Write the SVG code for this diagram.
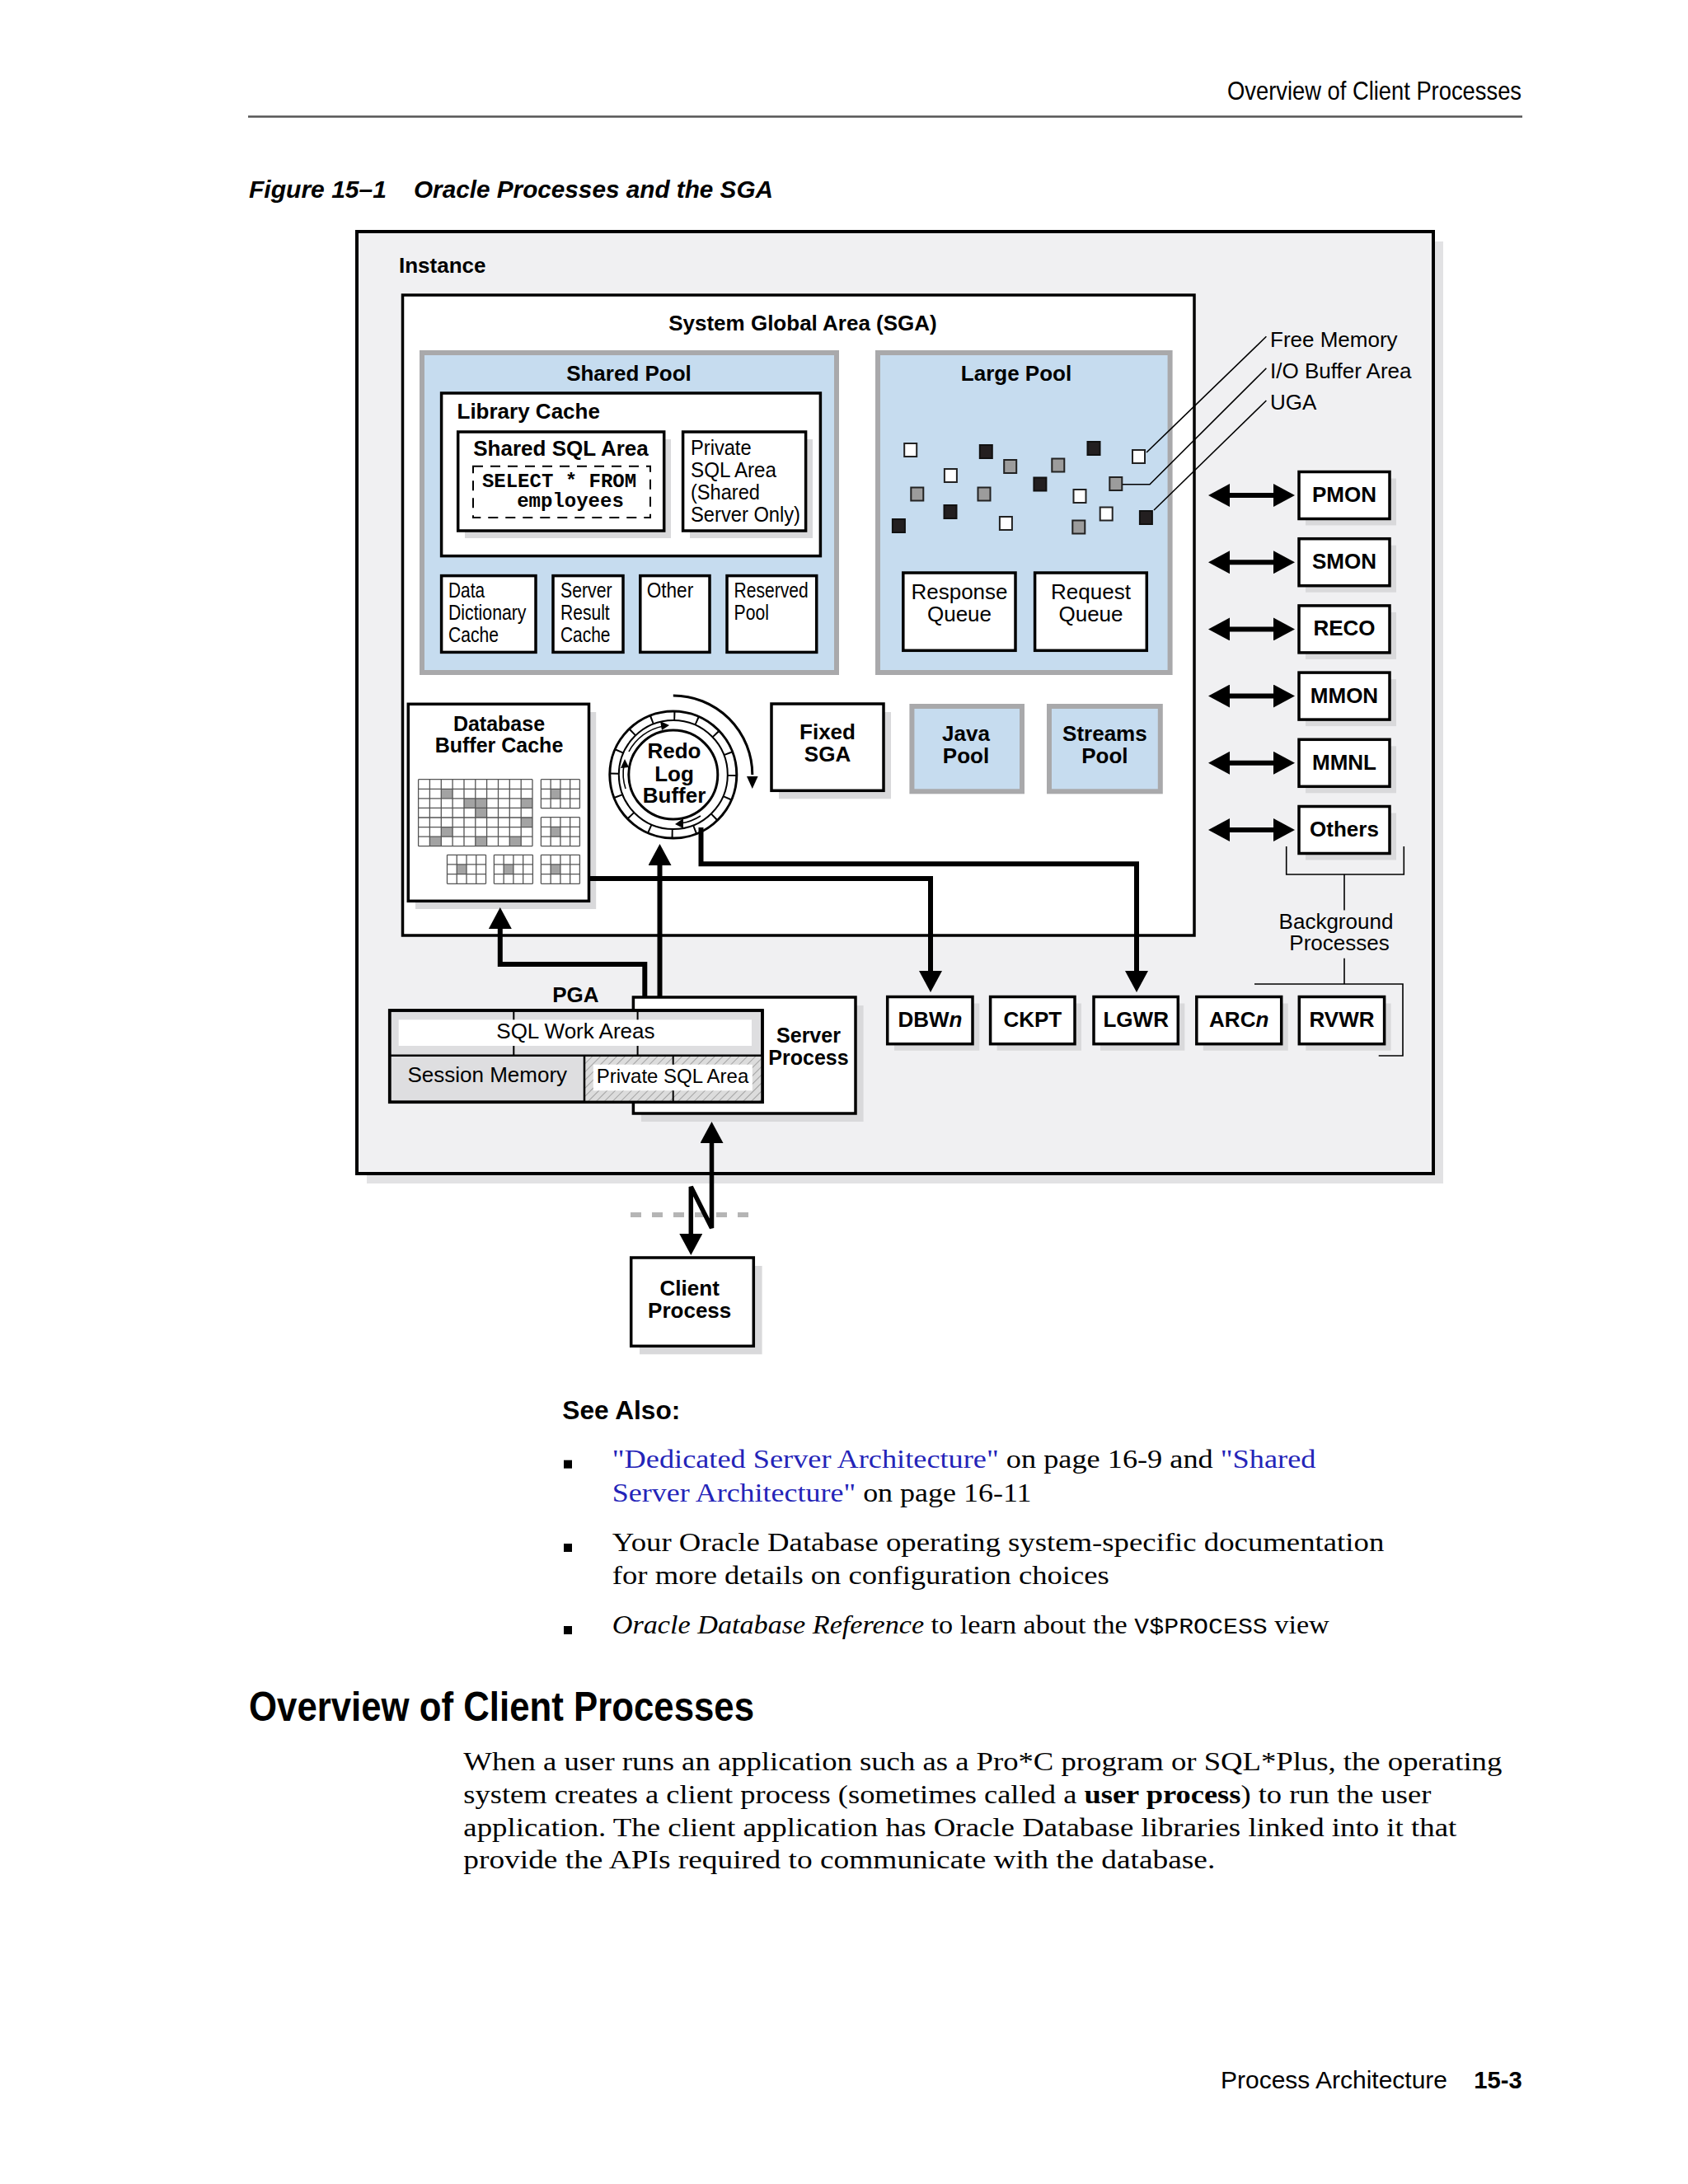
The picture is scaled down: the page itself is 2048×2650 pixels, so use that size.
<svg xmlns="http://www.w3.org/2000/svg" width="2048" height="2650" viewBox="0 0 2048 2650">
<style>
.b{font-family:"Liberation Sans",Arial,sans-serif;font-weight:bold;fill:#000}
.r{font-family:"Liberation Sans",Arial,sans-serif;fill:#000}
.s{font-family:"Liberation Serif","Times New Roman",serif;fill:#000}
.m{text-anchor:middle}
.box{fill:#fff;stroke:#000;stroke-width:3.5}
.sh{fill:#d9d9db}
.pool{fill:#c6dcef;stroke:#a9a9ab;stroke-width:6}
.thick{fill:none;stroke:#000;stroke-width:6}
.thin{fill:none;stroke:#000;stroke-width:1.6}
.sw{fill:#fff;stroke:#222;stroke-width:2}
.sg{fill:#9c9c9c;stroke:#222;stroke-width:2}
.sk{fill:#231f20;stroke:#111;stroke-width:2}
.grid{fill:none;stroke:#555;stroke-width:1.3}
.gc{fill:#a3a3a3}
.link{fill:#2424b8}
</style>
<defs>
<marker id="ah" markerUnits="userSpaceOnUse" markerWidth="26" markerHeight="28" refX="0" refY="14" orient="auto-start-reverse" viewBox="0 0 26 28"><path d="M0,0 L26,14 L0,28 z" fill="#000"/></marker>
<pattern id="hatch" patternUnits="userSpaceOnUse" width="7" height="7" patternTransform="rotate(45)"><rect width="7" height="7" fill="#dcdcdc"/><line x1="0" y1="0" x2="0" y2="7" stroke="#8a8a8a" stroke-width="1.4"/></pattern>
</defs>
<rect width="2048" height="2650" fill="#fff"/>

<g id="page-header">
<text class="r" x="1489" y="121" font-size="32" textLength="357" lengthAdjust="spacingAndGlyphs">Overview of Client Processes</text>
<line x1="301" y1="141.5" x2="1847" y2="141.5" stroke="#555" stroke-width="2.5"/>
<text class="b" x="302" y="240" font-size="29" font-style="italic" textLength="167" lengthAdjust="spacingAndGlyphs">Figure 15–1</text>
<text class="b" x="502" y="240" font-size="29" font-style="italic" textLength="436" lengthAdjust="spacingAndGlyphs">Oracle Processes and the SGA</text>
</g>

<g id="instance">
<rect x="445" y="293" width="1306" height="1143" fill="#e2e2e4"/>
<rect x="433" y="281" width="1306" height="1143" fill="#f0f0f2" stroke="#000" stroke-width="4"/>
<text class="b" x="484" y="331" font-size="26">Instance</text>
</g>

<g id="sga">
<rect x="488.5" y="358" width="960.5" height="777" fill="#fff" stroke="#000" stroke-width="3.5"/>
<text class="b m" x="974" y="401" font-size="26">System Global Area (SGA)</text>
</g>

<g id="shared-pool">
<rect class="pool" x="512" y="428" width="503" height="388"/>
<text class="b m" x="763" y="462" font-size="26">Shared Pool</text>
</g>

<g id="library-cache">
<rect x="535.6" y="477" width="459.8" height="197.6" fill="#fff" stroke="#000" stroke-width="3.5"/>
<text class="b" x="554.5" y="507.5" font-size="26">Library Cache</text>
</g>

<g id="shared-sql-area">
<rect class="sh" x="564" y="533" width="250" height="120"/>
<rect class="box" x="555.7" y="524" width="250" height="120"/>
<text class="b m" x="680.5" y="553" font-size="26">Shared SQL Area</text>
<rect x="574" y="565.7" width="215" height="62.3" fill="none" stroke="#000" stroke-width="2" stroke-dasharray="12 9"/>
<text x="678.5" y="591" font-family="'Liberation Mono','Courier New',monospace" font-weight="bold" font-size="24" text-anchor="middle">SELECT * FROM</text>
<text x="692" y="614.6" font-family="'Liberation Mono','Courier New',monospace" font-weight="bold" font-size="24" text-anchor="middle">employees</text>
</g>

<g id="private-sql-area-shared">
<rect class="sh" x="837" y="533" width="149" height="120"/>
<rect class="box" x="828.6" y="524" width="149" height="120"/>
<text class="r" x="838" y="552" font-size="25" textLength="73.6" lengthAdjust="spacingAndGlyphs">Private</text>
<text class="r" x="838" y="579" font-size="25" textLength="104" lengthAdjust="spacingAndGlyphs">SQL Area</text>
<text class="r" x="838" y="605.7" font-size="25" textLength="84" lengthAdjust="spacingAndGlyphs">(Shared</text>
<text class="r" x="838" y="632.5" font-size="25" textLength="133" lengthAdjust="spacingAndGlyphs">Server Only)</text>
</g>

<g id="data-dictionary-cache">
<rect class="box" x="535.6" y="698.6" width="114.4" height="92.8"/>
<text class="r" x="544" y="725.4" font-size="25" textLength="44" lengthAdjust="spacingAndGlyphs">Data</text>
<text class="r" x="544" y="752.4" font-size="25" textLength="94.5" lengthAdjust="spacingAndGlyphs">Dictionary</text>
<text class="r" x="544" y="779.4" font-size="25" textLength="61" lengthAdjust="spacingAndGlyphs">Cache</text>
</g>
<g id="server-result-cache">
<rect class="box" x="671" y="698.6" width="85" height="92.8"/>
<text class="r" x="680" y="725.4" font-size="25" textLength="62.5" lengthAdjust="spacingAndGlyphs">Server</text>
<text class="r" x="680" y="752.4" font-size="25" textLength="59.7" lengthAdjust="spacingAndGlyphs">Result</text>
<text class="r" x="680" y="779.4" font-size="25" textLength="60.5" lengthAdjust="spacingAndGlyphs">Cache</text>
</g>
<g id="other">
<rect class="box" x="776.8" y="698.6" width="84.2" height="92.8"/>
<text class="r" x="784.7" y="725.4" font-size="25" textLength="56.5" lengthAdjust="spacingAndGlyphs">Other</text>
</g>
<g id="reserved-pool">
<rect class="box" x="882" y="698.6" width="108.7" height="92.8"/>
<text class="r" x="890.6" y="725.4" font-size="25" textLength="90" lengthAdjust="spacingAndGlyphs">Reserved</text>
<text class="r" x="890.6" y="752.4" font-size="25" textLength="42.3" lengthAdjust="spacingAndGlyphs">Pool</text>
</g>

<g id="large-pool">
<rect class="pool" x="1065" y="428" width="354.6" height="388"/>
<text class="b m" x="1233" y="462" font-size="26">Large Pool</text>
<rect class="sw" x="1097.2" y="538" width="15" height="16"/>
<rect class="sk" x="1188.8" y="540" width="15" height="16"/>
<rect class="sg" x="1218.2" y="558" width="15" height="16"/>
<rect class="sw" x="1145.9" y="569" width="15" height="16"/>
<rect class="sg" x="1105.3" y="591.5" width="15" height="16"/>
<rect class="sg" x="1186.5" y="591.5" width="15" height="16"/>
<rect class="sk" x="1145.5" y="613" width="15" height="16"/>
<rect class="sk" x="1082.9" y="630" width="15" height="16"/>
<rect class="sw" x="1212.9" y="627" width="15" height="16"/>
<rect class="sg" x="1276.3" y="556.5" width="15" height="16"/>
<rect class="sk" x="1319.5" y="536" width="15" height="16"/>
<rect class="sk" x="1254.4" y="579.5" width="15" height="16"/>
<rect class="sw" x="1302.5" y="594" width="15" height="16"/>
<rect class="sg" x="1346.3" y="579" width="15" height="16"/>
<rect class="sw" x="1374" y="546" width="15" height="16"/>
<rect class="sw" x="1334.7" y="615.5" width="15" height="16"/>
<rect class="sg" x="1301.3" y="631.5" width="15" height="16"/>
<rect class="sk" x="1382.9" y="620" width="15" height="16"/>
</g>
<g id="response-queue">
<rect class="box" x="1095.8" y="695" width="136.2" height="94.3"/>
<text class="r m" x="1164" y="727.3" font-size="26">Response</text>
<text class="r m" x="1164" y="754" font-size="26">Queue</text>
</g>
<g id="request-queue">
<rect class="box" x="1255.6" y="695" width="135.7" height="94.3"/>
<text class="r m" x="1323.5" y="727.3" font-size="26">Request</text>
<text class="r m" x="1323.5" y="754" font-size="26">Queue</text>
</g>

<g id="large-pool-labels">
<text class="r" x="1541" y="421" font-size="26">Free Memory</text>
<text class="r" x="1541" y="459" font-size="26">I/O Buffer Area</text>
<text class="r" x="1541" y="497" font-size="26">UGA</text>
</g>

<g id="database-buffer-cache">
<rect class="sh" x="504" y="864" width="219.2" height="239"/>
<rect class="box" x="495.3" y="854.3" width="219.2" height="239"/>
<text class="b m" x="605.5" y="886.7" font-size="25">Database</text>
<text class="b m" x="605.5" y="913.3" font-size="25">Buffer Cache</text>
<g id="buffer-grid">
<rect x="507.6" y="945.7" width="138.4" height="81" fill="#fff"/>
<rect class="gc" x="535.3" y="957.3" width="13.8" height="11.5"/>
<rect class="gc" x="563" y="968.8" width="13.8" height="11.6"/>
<rect class="gc" x="576.8" y="968.8" width="13.8" height="23.2"/>
<rect class="gc" x="632.2" y="968.8" width="13.8" height="11.6"/>
<rect class="gc" x="632.2" y="992" width="13.8" height="11.6"/>
<rect class="gc" x="535.3" y="1003.6" width="13.8" height="11.5"/>
<rect class="gc" x="521.4" y="1015.1" width="13.9" height="11.6"/>
<rect class="gc" x="576.8" y="1015.1" width="13.8" height="11.6"/>
<rect class="gc" x="618.3" y="1015.1" width="13.9" height="11.6"/>
<path class="grid" d="M507.6,945.7V1026.7M521.4,945.7V1026.7M535.3,945.7V1026.7M549.1,945.7V1026.7M563,945.7V1026.7M576.8,945.7V1026.7M590.6,945.7V1026.7M604.5,945.7V1026.7M618.3,945.7V1026.7M632.2,945.7V1026.7M646,945.7V1026.7M507.6,945.7H646M507.6,957.3H646M507.6,968.8H646M507.6,980.4H646M507.6,992H646M507.6,1003.6H646M507.6,1015.1H646M507.6,1026.7H646"/>
<g id="small-grid-1" transform="translate(656.4,945.7)">
<rect width="47" height="35" fill="#fff"/><rect class="gc" x="11.75" y="11.67" width="11.75" height="11.67"/>
<path class="grid" d="M0,0V35M11.75,0V35M23.5,0V35M35.25,0V35M47,0V35M0,0H47M0,11.67H47M0,23.33H47M0,35H47"/>
</g>
<g transform="translate(656.4,991.7)">
<rect width="47" height="35" fill="#fff"/><rect class="gc" x="11.75" y="11.67" width="11.75" height="11.67"/>
<path class="grid" d="M0,0V35M11.75,0V35M23.5,0V35M35.25,0V35M47,0V35M0,0H47M0,11.67H47M0,23.33H47M0,35H47"/>
</g>
<g transform="translate(542.5,1037.3)">
<rect width="47" height="35" fill="#fff"/><rect class="gc" x="11.75" y="11.67" width="11.75" height="11.67"/>
<path class="grid" d="M0,0V35M11.75,0V35M23.5,0V35M35.25,0V35M47,0V35M0,0H47M0,11.67H47M0,23.33H47M0,35H47"/>
</g>
<g transform="translate(599.4,1037.3)">
<rect width="47" height="35" fill="#fff"/><rect class="gc" x="11.75" y="11.67" width="11.75" height="11.67"/>
<path class="grid" d="M0,0V35M11.75,0V35M23.5,0V35M35.25,0V35M47,0V35M0,0H47M0,11.67H47M0,23.33H47M0,35H47"/>
</g>
<g transform="translate(656.4,1037.3)">
<rect width="47" height="35" fill="#fff"/><rect class="gc" x="11.75" y="11.67" width="11.75" height="11.67"/>
<path class="grid" d="M0,0V35M11.75,0V35M23.5,0V35M35.25,0V35M47,0V35M0,0H47M0,11.67H47M0,23.33H47M0,35H47"/>
</g>
</g>
</g>

<g id="redo-log-buffer">
<circle cx="816.8" cy="940" r="77" fill="#fff" stroke="#000" stroke-width="3"/>
<circle cx="816.8" cy="940" r="71.5" fill="none" stroke="#000" stroke-width="11" stroke-dasharray="2 26.08"/>
<circle cx="816.8" cy="940" r="66" fill="none" stroke="#000" stroke-width="2"/>
<circle cx="816.8" cy="940" r="54" fill="#fff" stroke="#000" stroke-width="3"/>
<path class="thin" stroke-width="2.5" d="M763,912 A60,60 0 0 1 805,881"/>
<path d="M812,880 L801,875 L803,886 z"/>
<path class="thin" stroke-width="2.5" d="M850,990 A60,60 0 0 1 826,999"/>
<path d="M819,1000 L829,993 L829,1005 z"/>
<path class="thin" stroke-width="2.5" d="M759,957 A60,60 0 0 1 757,928"/>
<path d="M758,921 L753,932 L763,931 z"/>
<text class="b m" x="818" y="920" font-size="26">Redo</text>
<text class="b m" x="818" y="948" font-size="26">Log</text>
<text class="b m" x="818" y="974" font-size="26">Buffer</text>
<path d="M816.8,844 A96,96 0 0 1 912.8,940" fill="none" stroke="#000" stroke-width="3"/>
<path d="M912.8,957 L906,942 L919.6,942 z"/>
</g>

<g id="fixed-sga">
<rect class="sh" x="945" y="864" width="136" height="105.3"/>
<rect class="box" x="936" y="854" width="136" height="105.3"/>
<text class="b m" x="1004" y="897.3" font-size="26">Fixed</text>
<text class="b m" x="1004" y="924" font-size="26">SGA</text>
</g>
<g id="java-pool">
<rect class="pool" x="1106.4" y="857" width="133.6" height="103.3"/>
<text class="b m" x="1172" y="899" font-size="26">Java</text>
<text class="b m" x="1172" y="926" font-size="26">Pool</text>
</g>
<g id="streams-pool">
<rect class="pool" x="1273" y="857" width="134.8" height="103.3"/>
<text class="b m" x="1340.4" y="899" font-size="26">Streams</text>
<text class="b m" x="1340.4" y="926" font-size="26">Pool</text>
</g>

<g id="server-process">
<rect class="sh" x="778" y="1220" width="269.6" height="141"/>
<rect class="box" x="768.4" y="1210" width="269.6" height="141"/>
<text class="b m" x="981" y="1265" font-size="25">Server</text>
<text class="b m" x="981" y="1291.7" font-size="25">Process</text>
</g>

<g id="pga">
<text class="b m" x="698.4" y="1215.7" font-size="26">PGA</text>
<rect x="472.7" y="1226" width="452.3" height="111.3" fill="#dedee0" stroke="#000" stroke-width="3.5"/>
<rect x="483.7" y="1237.3" width="428.3" height="31.7" fill="#fff"/>
<path d="M623.3,1226V1237.3M623.3,1269V1280.7M773.6,1226V1237.3M773.6,1269V1280.7" stroke="#000" stroke-width="2"/>
<text class="r m" x="698.4" y="1260" font-size="26">SQL Work Areas</text>
<rect x="709" y="1280.7" width="216" height="56.6" fill="url(#hatch)"/>
<rect x="719.8" y="1291.7" width="193" height="31.6" fill="#fff"/>
<path d="M816.7,1280.7V1291.7M816.7,1323.3V1337.3" stroke="#000" stroke-width="2"/>
<line x1="472.7" y1="1280.7" x2="925" y2="1280.7" stroke="#000" stroke-width="2.5"/>
<line x1="709" y1="1280.7" x2="709" y2="1337.3" stroke="#000" stroke-width="2.5"/>
<rect x="472.7" y="1226" width="452.3" height="111.3" fill="none" stroke="#000" stroke-width="3.5"/>
<text class="r m" x="591.3" y="1313.3" font-size="26">Session Memory</text>
<text class="r m" x="816" y="1314" font-size="24">Private SQL Area</text>
</g>

<g id="background-processes">
<g id="pmon"><rect class="sh" x="1584" y="580.5" width="110" height="57"/><rect class="box" x="1576" y="572.5" width="110" height="57"/><text class="b m" x="1631" y="609" font-size="26">PMON</text></g>
<g id="smon"><rect class="sh" x="1584" y="661.7" width="110" height="57"/><rect class="box" x="1576" y="653.7" width="110" height="57"/><text class="b m" x="1631" y="690.2" font-size="26">SMON</text></g>
<g id="reco"><rect class="sh" x="1584" y="742.9" width="110" height="57"/><rect class="box" x="1576" y="734.9" width="110" height="57"/><text class="b m" x="1631" y="771.4" font-size="26">RECO</text></g>
<g id="mmon"><rect class="sh" x="1584" y="824.1" width="110" height="57"/><rect class="box" x="1576" y="816.1" width="110" height="57"/><text class="b m" x="1631" y="852.6" font-size="26">MMON</text></g>
<g id="mmnl"><rect class="sh" x="1584" y="905.3" width="110" height="57"/><rect class="box" x="1576" y="897.3" width="110" height="57"/><text class="b m" x="1631" y="933.8" font-size="26">MMNL</text></g>
<g id="others"><rect class="sh" x="1584" y="986.5" width="110" height="57"/><rect class="box" x="1576" y="978.5" width="110" height="57"/><text class="b m" x="1631" y="1015" font-size="26">Others</text></g>
<text class="r m" x="1621" y="1126.7" font-size="26">Background</text>
<text class="r m" x="1625" y="1153.3" font-size="26">Processes</text>
</g>

<g id="dbwn"><rect class="sh" x="1085" y="1217.5" width="103.3" height="57.2"/><rect class="box" x="1076.7" y="1209.5" width="103.3" height="57.2"/><text class="b m" x="1128.4" y="1246" font-size="26">DBW<tspan font-style="italic">n</tspan></text></g>
<g id="ckpt"><rect class="sh" x="1209.6" y="1217.5" width="102.4" height="57.2"/><rect class="box" x="1201.6" y="1209.5" width="102.4" height="57.2"/><text class="b m" x="1252.8" y="1246" font-size="26">CKPT</text></g>
<g id="lgwr"><rect class="sh" x="1335" y="1217.5" width="102.3" height="57.2"/><rect class="box" x="1327" y="1209.5" width="102.3" height="57.2"/><text class="b m" x="1378.2" y="1246" font-size="26">LGWR</text></g>
<g id="arcn"><rect class="sh" x="1459.8" y="1217.5" width="102.9" height="57.2"/><rect class="box" x="1451.8" y="1209.5" width="102.9" height="57.2"/><text class="b m" x="1503.2" y="1246" font-size="26">ARC<tspan font-style="italic">n</tspan></text></g>
<g id="rvwr"><rect class="sh" x="1584.3" y="1217.5" width="103.3" height="57.2"/><rect class="box" x="1576.3" y="1209.5" width="103.3" height="57.2"/><text class="b m" x="1628" y="1246" font-size="26">RVWR</text></g>

<g id="client-process">
<rect class="sh" x="776" y="1536" width="148.6" height="107.3"/>
<rect class="box" x="765.7" y="1526" width="148.6" height="107.3"/>
<text class="b m" x="836.7" y="1571.7" font-size="26">Client</text>
<text class="b m" x="836.7" y="1599" font-size="26">Process</text>
</g>

<g id="connectors">
<path class="thin" d="M1391,549 L1536.4,408.3"/>
<path class="thin" d="M1362,587.7 H1395 L1536.4,446.7"/>
<path class="thin" d="M1400,619 L1536.4,486"/>
<path class="thick" marker-start="url(#ah)" marker-end="url(#ah)" d="M1492,601 H1545"/>
<path class="thick" marker-start="url(#ah)" marker-end="url(#ah)" d="M1492,682.2 H1545"/>
<path class="thick" marker-start="url(#ah)" marker-end="url(#ah)" d="M1492,763.4 H1545"/>
<path class="thick" marker-start="url(#ah)" marker-end="url(#ah)" d="M1492,844.6 H1545"/>
<path class="thick" marker-start="url(#ah)" marker-end="url(#ah)" d="M1492,925.8 H1545"/>
<path class="thick" marker-start="url(#ah)" marker-end="url(#ah)" d="M1492,1007 H1545"/>
<path class="thin" d="M1560.7,1027 V1061 H1703.3 V1027 M1631,1061 V1104.5"/>
<path class="thin" d="M1631,1162.7 V1194 M1522,1194 H1702 V1281 H1672.7"/>
<path class="thick" marker-end="url(#ah)" d="M714.5,1066 H1129 V1178"/>
<path class="thick" marker-end="url(#ah)" d="M850.5,1004 V1048.3 H1379 V1178"/>
<path class="thick" marker-end="url(#ah)" d="M800.5,1210 V1050"/>
<path class="thick" marker-end="url(#ah)" d="M782.3,1210 V1170 H606.8 V1127"/>
<line x1="765" y1="1474" x2="912" y2="1474" stroke="#b5b5b5" stroke-width="6" stroke-dasharray="13 13"/>
<path fill="none" stroke="#000" stroke-width="5.5" marker-start="url(#ah)" marker-end="url(#ah)" d="M838.3,1497 V1440 L863.5,1490 V1387"/>
</g>

<g id="see-also">
<text class="b" x="682.3" y="1721.7" font-size="31" textLength="143" lengthAdjust="spacingAndGlyphs">See Also:</text>
<rect x="684" y="1771.7" width="10" height="10"/>
<rect x="684" y="1873" width="10" height="10"/>
<rect x="684" y="1973" width="10" height="10"/>
<text class="s" x="742.8" y="1780.7" font-size="32" textLength="853.6" lengthAdjust="spacingAndGlyphs"><tspan class="link">"Dedicated Server Architecture"</tspan> on page 16-9 and <tspan class="link">"Shared</tspan></text>
<text class="s" x="742.8" y="1821.7" font-size="32" textLength="508.8" lengthAdjust="spacingAndGlyphs"><tspan class="link">Server Architecture"</tspan> on page 16-11</text>
<text class="s" x="742.8" y="1881.7" font-size="32" textLength="936.5" lengthAdjust="spacingAndGlyphs">Your Oracle Database operating system-specific documentation</text>
<text class="s" x="742.8" y="1921.7" font-size="32" textLength="603" lengthAdjust="spacingAndGlyphs">for more details on configuration choices</text>
<text class="s" x="742.8" y="1981.7" font-size="32" textLength="870" lengthAdjust="spacingAndGlyphs"><tspan font-style="italic">Oracle Database Reference</tspan> to learn about the <tspan font-family="'Liberation Mono','Courier New',monospace" font-size="28">V$PROCESS</tspan> view</text>
</g>

<g id="section">
<text class="b" x="302" y="2088.3" font-size="50" textLength="613" lengthAdjust="spacingAndGlyphs">Overview of Client Processes</text>
<text class="s" x="562.3" y="2148" font-size="32" textLength="1260" lengthAdjust="spacingAndGlyphs">When a user runs an application such as a Pro*C program or SQL*Plus, the operating</text>
<text class="s" x="562.3" y="2188" font-size="32" textLength="1174" lengthAdjust="spacingAndGlyphs">system creates a client process (sometimes called a <tspan font-weight="bold">user process</tspan>) to run the user</text>
<text class="s" x="562.3" y="2227.5" font-size="32" textLength="1205" lengthAdjust="spacingAndGlyphs">application. The client application has Oracle Database libraries linked into it that</text>
<text class="s" x="562.3" y="2267" font-size="32" textLength="912" lengthAdjust="spacingAndGlyphs">provide the APIs required to communicate with the database.</text>
</g>

<g id="footer">
<text class="r" x="1481" y="2534" font-size="29.5" textLength="275" lengthAdjust="spacingAndGlyphs">Process Architecture</text>
<text class="b" x="1788.3" y="2534" font-size="29" textLength="58.4" lengthAdjust="spacingAndGlyphs">15-3</text>
</g>
</svg>
